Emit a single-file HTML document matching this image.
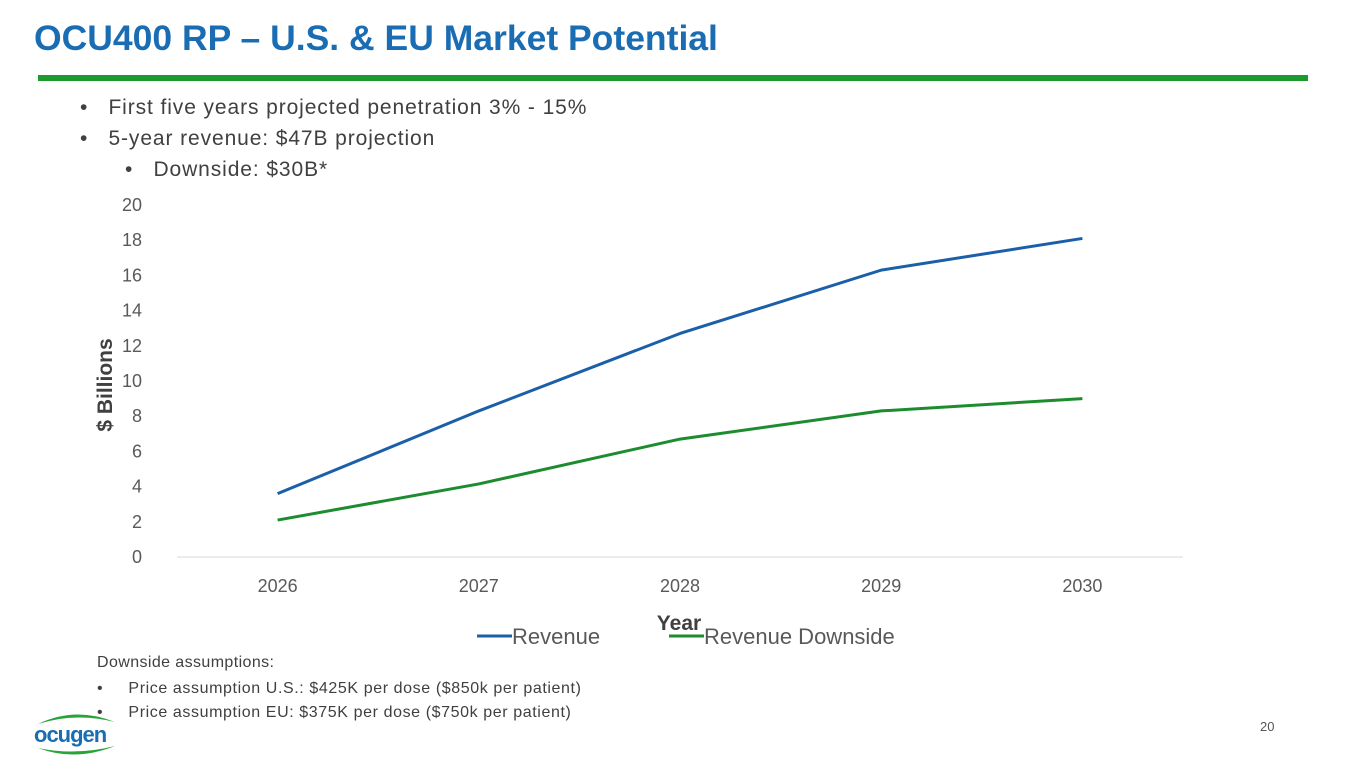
<!DOCTYPE html>
<html><head><meta charset="utf-8"><style>
body{margin:0;width:1365px;height:768px;background:#fff;position:relative;overflow:hidden;font-family:"Liberation Sans",sans-serif}
.t{position:absolute;white-space:nowrap}
</style></head><body>
<div class="t" style="left:34px;top:18px;font-size:35.5px;font-weight:bold;color:#1a6db3;">OCU400 RP – U.S. &amp; EU Market Potential</div>
<div style="position:absolute;left:38px;top:75px;width:1270px;height:6px;background:#1c9a2e"></div>
<div class="t" style="left:80px;top:96px;font-size:21px;color:#404040;letter-spacing:0.9px">•&nbsp;&nbsp; First five years projected penetration 3% - 15%</div>
<div class="t" style="left:80px;top:127px;font-size:21px;color:#404040;letter-spacing:0.9px">•&nbsp;&nbsp; 5-year revenue: $47B projection</div>
<div class="t" style="left:125px;top:158px;font-size:21px;color:#404040;letter-spacing:0.9px">•&nbsp;&nbsp; Downside: $30B*</div>
<svg id="chart" width="1365" height="768" style="position:absolute;left:0;top:0"></svg>
<div class="t" style="left:97px;top:654px;font-size:16px;color:#404040;letter-spacing:0.4px">Downside assumptions:</div>
<div class="t" style="left:97px;top:680px;font-size:16px;color:#404040;letter-spacing:0.6px">•&nbsp;&nbsp;&nbsp;&nbsp; Price assumption U.S.: $425K per dose ($850k per patient)</div>
<div class="t" style="left:97px;top:704px;font-size:16px;color:#404040;letter-spacing:0.6px">•&nbsp;&nbsp;&nbsp;&nbsp; Price assumption EU: $375K per dose ($750k per patient)</div>
<div style="position:absolute;left:30px;top:708px;width:100px;height:50px">
<svg width="100" height="50"><path d="M8 16 Q45 -2 85 14 Q45 4 8 16Z" fill="#2aa33a"/><path d="M8 40 Q45 54 85 38 Q45 48 8 40Z" fill="#2aa33a"/>
<text x="4" y="34" font-size="22" font-weight="bold" fill="#1a6db3" font-family="Liberation Sans,sans-serif" letter-spacing="-1">ocugen</text></svg></div>
<div class="t" style="left:1260px;top:719px;font-size:13px;color:#555">20</div>
<script>
const years=["2026","2027","2028","2029","2030"];
const revenue=[3.6,8.3,12.7,16.3,18.1];
const downside=[2.1,4.15,6.7,8.3,9.0];
const yTicks=[0,2,4,6,8,10,12,14,16,18,20];
const svg=document.getElementById('chart');
const NS='http://www.w3.org/2000/svg';
const x0=177,x1=1183,y0=557,y1=205;
const xs=i=>x0+(x1-x0)/years.length*(i+0.5);
const ys=v=>y0-(v/20)*(y0-y1);
function el(t,a){const e=document.createElementNS(NS,t);for(const k in a)e.setAttribute(k,a[k]);svg.appendChild(e);return e;}
const ax=el('line',{x1:x0,x2:x1,y1:y0,y2:y0,stroke:'#d9d9d9','stroke-width':1});


yTicks.forEach(v=>{const t=el('text',{x:142,y:ys(v)+6,'text-anchor':'end','font-size':18,fill:'#595959','font-family':'Liberation Sans,sans-serif'});t.textContent=v;

});
years.forEach((y,i)=>{const t=el('text',{x:xs(i),y:592,'text-anchor':'middle','font-size':18,fill:'#595959','font-family':'Liberation Sans,sans-serif'});t.textContent=y;

});
function series(vals,color,name){const p=el('polyline',{points:vals.map((v,i)=>xs(i)+','+ys(v)).join(' '),fill:'none',stroke:color,'stroke-width':3,'stroke-linejoin':'round'});

}
series(revenue,'#1a5fa8','revenue-line');
series(downside,'#1c8c2e','revenue-downside-line');
const yt=el('text',{transform:'translate(112,385) rotate(-90)','text-anchor':'middle','font-size':21,'font-weight':'bold',fill:'#404040','font-family':'Liberation Sans,sans-serif'});yt.textContent='$ Billions';


const xt=el('text',{x:679,y:630,'text-anchor':'middle','font-size':21,'font-weight':'bold',fill:'#404040','font-family':'Liberation Sans,sans-serif'});xt.textContent='Year';


[['Revenue','#1a5fa8',477],['Revenue Downside','#1c8c2e',669]].forEach(([n,c,lx])=>{
const l=el('line',{x1:lx,x2:lx+35,y1:636,y2:636,stroke:c,'stroke-width':3});


const t=el('text',{x:lx+35,y:644,'font-size':22,fill:'#595959','font-family':'Liberation Sans,sans-serif'});t.textContent=n;

});
</script>
</body></html>
